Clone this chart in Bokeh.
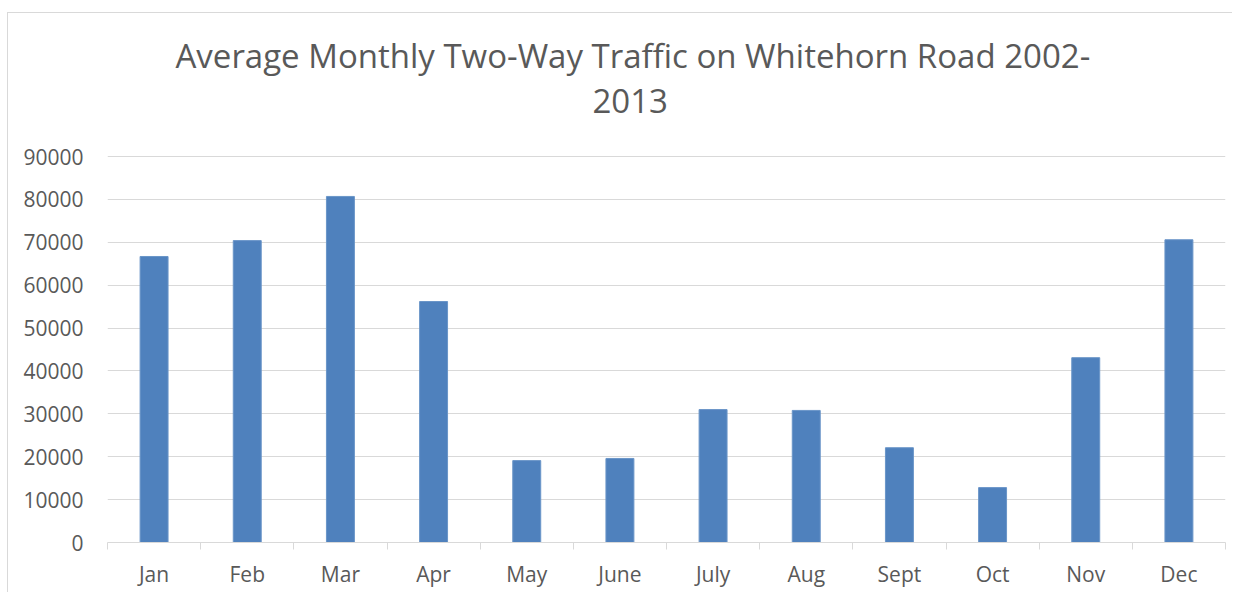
from bokeh.plotting import figure
from bokeh.models import Range1d, FixedTicker, Title
from bokeh.embed import file_html
from bokeh.resources import INLINE

months = ["Jan", "Feb", "Mar", "Apr", "May", "June", "July", "Aug", "Sept", "Oct", "Nov", "Dec"]
traffic = [66700, 70400, 80700, 56200, 19100, 19600, 31000, 30800, 22100, 12800, 43100, 70600]
y_ticks = [0, 10000, 20000, 30000, 40000, 50000, 60000, 70000, 80000, 90000]
title_lines = ["Average Monthly Two-Way Traffic on Whitehorn Road 2002-", "2013"]

FONT = "Open Sans"
TXT = "#595959"
GRID = "#d9d9d9"
BAR = "#4f81bd"

xpos = [i + 0.5 for i in range(len(months))]

p = figure(width=1225, height=580, output_backend="svg", toolbar_location=None,
           x_range=Range1d(0, len(months)), y_range=Range1d(0, 90250),
           min_border_left=99, min_border_right=8, min_border_top=142, min_border_bottom=51)
p.styles = {"margin-top": "12px", "margin-left": "7px",
            "border-top": "1px solid #d9d9d9", "border-left": "1px solid #d9d9d9"}
p.outline_line_color = None
p.background_fill_color = "white"
p.border_fill_color = "white"

p.vbar(x=xpos, top=traffic, width=0.30, bottom=0, fill_color=BAR, line_color="#6a95c8", line_width=1)

# y axis
ya = p.yaxis[0]
ya.ticker = FixedTicker(ticks=y_ticks)
ya.axis_line_color = None
ya.major_tick_line_color = None
ya.minor_tick_line_color = None
ya.major_label_standoff = 18
ya.major_label_text_font = FONT
ya.major_label_text_font_size = "21px"
ya.major_label_text_color = TXT
p.ygrid.ticker = FixedTicker(ticks=y_ticks)
p.ygrid.grid_line_color = GRID
p.ygrid.grid_line_width = 1
p.xgrid.grid_line_color = None

# x axis: labels at centres, small ticks at category boundaries
xa = p.xaxis[0]
xa.ticker = FixedTicker(ticks=xpos, minor_ticks=list(range(len(months) + 1)))
xa.major_label_overrides = {x: m for x, m in zip(xpos, months)}
xa.axis_line_color = GRID
xa.axis_line_width = 1
xa.major_tick_line_color = None
xa.minor_tick_line_color = GRID
xa.minor_tick_out = 7
xa.minor_tick_in = 0
xa.major_label_standoff = 10
xa.major_label_text_font = FONT
xa.major_label_text_font_size = "21px"
xa.major_label_text_color = TXT

# two-line title (inner line added first)
for line, off, sd in [(title_lines[1], 485, 85), (title_lines[0], 68, -66)]:
    p.add_layout(Title(text=line, align="left", offset=off, standoff=sd,
                       text_font=FONT, text_font_size="33px", text_font_style="normal",
                       text_color=TXT), "above")

open("out.html", "w").write(file_html(p, INLINE))
